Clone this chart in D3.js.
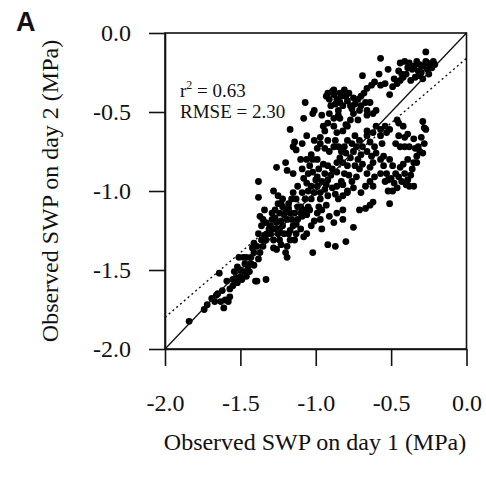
<!DOCTYPE html>
<html>
<head>
<meta charset="utf-8">
<script src="https://cdn.jsdelivr.net/npm/d3@7"></script>
<style>
  html, body { margin: 0; padding: 0; background: #fff; }
  svg { display: block; }
  text { font-family: "Liberation Serif", "Times New Roman", serif; fill: #111; }
</style>
</head>
<body>
<script>
// ---- data (MPa) ----
const day1 = [
  -1.84,-1.74,-1.72,-1.69,-1.66,-1.63,-1.61,-1.62,-1.64,-1.59,-1.57,-1.58,-1.55,-1.54,-1.52,-1.51,-1.49,-1.47,-1.45,-1.46,
  -1.48,-1.43,-1.40,-1.39,-1.33,-1.41,-1.39,-1.41,-1.36,-1.38,-1.34,-1.31,-1.33,-1.35,-1.37,-1.34,-1.29,-1.27,-1.26,-1.30,
  -1.28,-1.25,-1.24,-1.22,-1.19,-1.24,-1.22,-1.25,-1.28,-1.25,-1.22,-1.18,-1.17,-1.16,-1.15,-1.18,-1.17,-1.19,-1.20,-1.19,
  -1.14,-1.13,-1.10,-1.08,-1.06,-1.03,-1.01,-0.97,-0.96,-1.02,-0.92,-0.87,-0.80,-0.75,-0.82,-0.88,-0.91,-0.86,-0.82,-0.71,
  -0.67,-0.64,-0.62,-0.51,-0.85,-0.82,-0.79,
  -1.38,-1.38,-1.26,-1.20,-1.19,-1.15,-1.17,-1.14,-1.15,-1.13,-1.09,-1.06,-1.08,-1.07,-1.02,-1.01,-0.96,-0.95,-0.92,-0.91,
  -0.88,-0.90,-0.86,-0.84,-0.82,-0.85,-0.80,-0.81,-0.75,-0.72,-0.70,-0.67,-0.71,-0.75,-0.77,-0.79,-0.82,-0.86,-0.88,-0.92,
  -0.84,-0.72,-0.66,-0.62,-0.60,-0.66,-0.69,-0.63,-0.61,-0.58,-0.57,-0.54,-0.52,-0.57,-0.51,-0.49,-0.46,-0.44,-0.45,-0.42,
  -0.40,-0.44,-0.41,-0.38,-0.35,-0.33,-0.31,-0.32,-0.30,-0.29,-0.27,-0.26,-0.24,-0.22,-0.21,-0.27,-0.34,-0.37,-0.29,-0.25,
  -0.39,
  -1.15,-1.13,-1.10,-1.09,-1.07,-1.05,-1.03,-1.01,-0.99,-1.03,-1.06,-1.08,-1.05,-1.02,-0.99,-0.96,-0.94,-0.92,-0.95,-0.99,
  -1.02,-1.06,-1.10,-1.09,-1.03,-0.99,-0.97,-1.01,-0.94,-0.91,-0.88,-0.92,-0.87,-0.85,-0.83,-0.84,-0.86,-0.89,-0.92,-0.89,
  -0.94,-0.92,-0.87,-0.86,-0.83,-0.81,-0.79,-0.82,-0.77,-0.75,-0.73,-0.76,-0.71,-0.69,-0.66,-0.70,-0.72,-0.74,-0.71,-0.69,
  -0.66,-0.64,-0.62,-0.63,-0.60,-0.61,-0.64,-0.66,-0.62,-0.57,-0.56,-0.57,-0.54,-0.53,-0.60,-0.74,-0.79,-0.81,-0.80,-0.76,
  -0.73,-0.75,-0.79,-0.82,-0.67,-0.64,-0.61,-0.57,-0.55,-0.62,-0.70,
  -0.53,-0.52,-0.49,-0.51,-0.47,-0.45,-0.48,-0.46,-0.49,-0.52,-0.44,-0.42,-0.41,-0.39,-0.40,-0.38,-0.35,-0.36,-0.39,-0.35,
  -0.33,-0.31,-0.34,-0.38,-0.41,-0.44,-0.47,-0.45,-0.41,-0.39,-0.35,-0.32,-0.29,-0.28,-0.28,-0.27,-0.29,-0.45,-0.46,-0.42,
  -0.51,-0.55,-0.57,-0.54,
  -0.94,-0.97,-0.91,-0.88,-0.77,-0.74,-0.79,-0.66,-0.64,-0.88,-0.84,-0.66,
  -1.30,-1.27,-1.23,-1.21,-1.18,-1.16,-1.14,-1.12,-1.09,-1.12,-1.08,-1.06,-1.04,-0.98,-0.96,-0.93,-0.97,-0.99,-1.33,-1.35,
  -1.37,-1.38,-1.41,-1.44,-1.46,-1.50,-1.52,-1.55,-1.57,-1.60,-1.65,-1.67,-1.28,-1.24,-1.21,-1.26,-1.23,
  -0.93,-0.89,-0.87,-0.83,-0.78,-0.76,-0.70,-0.85,-0.80,-0.68,
  -1.05,-1.00,-0.97,-0.93,-0.90,-1.04,-0.98,-1.12,-0.86,-0.78,
  -1.27,-1.23,-1.20,-1.17,-1.13,-1.10,-1.32,-1.29,-1.36,-1.42,
  -1.47,-1.50,-1.43,-1.53,
  -0.36,-0.31,-0.43,-0.48,-0.26,-0.23,
  -0.50,-0.43,-0.37,-0.33,-0.30
];
const day2 = [
  -1.825,-1.75,-1.72,-1.68,-1.66,-1.70,-1.74,-1.63,-1.52,-1.57,-1.62,-1.70,-1.56,-1.51,-1.48,-1.42,-1.56,-1.51,-1.48,-1.42,
  -1.42,-1.46,-1.57,-1.57,-1.56,-1.39,-1.35,-1.33,-1.31,-1.27,-1.28,-1.24,-1.20,-1.18,-1.16,-1.12,-1.14,-1.17,-1.20,-1.27,
  -1.31,-1.27,-1.24,-1.22,-1.18,-1.14,-1.10,-1.08,-1.00,-1.03,-1.05,-1.08,-1.14,-1.18,-1.22,-1.27,-1.31,-1.35,-1.39,-1.42,
  -1.31,-1.27,-1.24,-1.29,-1.27,-1.22,-1.19,-1.18,-1.24,-1.39,-1.34,-1.35,-1.32,-1.23,-1.18,-1.20,-1.16,-1.14,-1.12,-1.12,
  -1.11,-1.09,-1.07,-1.08,-1.05,-1.03,-1.01,
  -0.94,-1.04,-0.85,-0.82,-0.87,-0.89,-0.61,-0.69,-0.72,-0.74,-0.70,-0.65,-0.54,-0.44,-0.51,-0.49,-0.52,-0.59,-0.38,-0.42,
  -0.39,-0.46,-0.42,-0.44,-0.46,-0.49,-0.40,-0.36,-0.41,-0.42,-0.40,-0.44,-0.49,-0.51,-0.55,-0.59,-0.62,-0.63,-0.59,-0.57,
  -0.54,-0.55,-0.52,-0.51,-0.49,-0.35,-0.27,-0.33,-0.31,-0.26,-0.33,-0.32,-0.23,-0.16,-0.39,-0.34,-0.32,-0.30,-0.24,-0.28,
  -0.26,-0.19,-0.18,-0.19,-0.21,-0.18,-0.20,-0.24,-0.25,-0.21,-0.18,-0.23,-0.20,-0.18,-0.20,-0.12,-0.28,-0.30,-0.29,-0.26,
  -0.22,
  -1.01,-1.05,-1.10,-1.01,-1.05,-1.10,-1.05,-1.01,-0.97,-0.97,-0.95,-0.92,-0.89,-0.88,-0.91,-0.94,-0.89,-0.84,-0.83,-0.80,
  -0.80,-0.80,-0.80,-0.86,-0.77,-0.73,-0.70,-0.68,-0.73,-0.75,-0.72,-0.68,-0.68,-0.72,-0.75,-0.79,-0.82,-0.86,-0.93,-0.98,
  -0.99,-1.03,-1.02,-0.97,-0.94,-0.89,-0.84,-0.82,-0.79,-0.75,-0.72,-0.70,-0.68,-0.72,-0.75,-0.77,-0.80,-0.84,-0.86,-0.83,
  -0.89,-0.85,-0.82,-0.78,-0.76,-0.72,-0.69,-0.65,-0.63,-0.65,-0.70,-0.61,-0.59,-0.63,-0.59,-0.65,-0.68,-0.72,-0.76,-0.94,
  -0.91,-0.98,-1.00,-0.96,-0.97,-0.94,-0.91,-0.89,-0.84,-0.97,-1.01,
  -0.89,-0.93,-0.84,-0.80,-0.89,-0.91,-0.95,-0.98,-1.00,-1.00,-0.85,-0.83,-0.89,-0.93,-0.96,-0.97,-0.97,-0.86,-0.80,-0.82,
  -0.78,-0.75,-0.73,-0.72,-0.72,-0.72,-0.70,-0.65,-0.66,-0.64,-0.67,-0.72,-0.76,-0.70,-0.60,-0.61,-0.56,-0.57,-0.55,-0.59,
  -0.61,-0.78,-0.80,-0.94,
  -0.62,-0.66,-0.51,-0.54,-0.46,-0.45,-0.43,-0.49,-0.44,-0.36,-0.38,-0.62,
  -1.22,-1.24,-1.19,-1.15,-1.11,-1.05,-1.14,-1.18,-1.16,-1.10,-1.12,-1.15,-1.12,-1.10,-1.12,-1.09,-1.05,-1.14,-1.31,-1.35,
  -1.39,-1.43,-1.47,-1.51,-1.54,-1.54,-1.58,-1.60,-1.67,-1.69,-1.65,-1.70,-1.36,-1.31,-1.27,-1.37,-1.34,
  -0.40,-0.37,-0.45,-0.40,-0.38,-0.48,-0.46,-0.52,-0.58,-0.38,
  -1.00,-0.93,-1.01,-0.96,-0.90,-0.84,-0.86,-0.97,-0.88,-0.90,
  -1.12,-1.08,-1.12,-1.25,-1.21,-1.14,-1.27,-1.18,-1.22,-1.36,
  -1.46,-1.50,-1.42,-1.55,
  -0.23,-0.27,-0.26,-0.29,-0.19,-0.22,
  -0.92,-0.94,-0.90,-0.82,-0.66
];
const tickValues = [-2.0, -1.5, -1.0, -0.5, 0.0];
const statLines = ["r2 = 0.63", "RMSE = 2.30"];
const panelLabel = "A";
const xTitle = "Observed SWP on day 1 (MPa)";
const yTitle = "Observed SWP on day 2 (MPa)";
const fitLine = { slope: 0.82, intercept: -0.16 };

const W = 486, H = 481;
const svg = d3.select("body").append("svg").attr("width", W).attr("height", H);

const x = d3.scaleLinear().domain([-2, 0]).range([165, 466.5]);
const y = d3.scaleLinear().domain([-2, 0]).range([349, 33]);
const fmt = d => d.toFixed(1);

// box
svg.append("rect")
  .attr("x", x(-2)).attr("y", y(0))
  .attr("width", x(0) - x(-2)).attr("height", y(-2) - y(0))
  .attr("fill", "none").attr("stroke", "#111").attr("stroke-width", 1.6);

// points
svg.append("g").selectAll("circle")
  .data(day1.map((v, i) => [v, day2[i]]))
  .join("circle")
  .attr("cx", d => x(d[0])).attr("cy", d => y(d[1]))
  .attr("r", 3.4).attr("fill", "#000");

// 1:1 line
svg.append("line")
  .attr("x1", x(-2)).attr("y1", y(-2)).attr("x2", x(0)).attr("y2", y(0))
  .attr("stroke", "#111").attr("stroke-width", 1.3);
// regression line (dotted)
svg.append("line")
  .attr("x1", x(-2)).attr("y1", y(fitLine.intercept + fitLine.slope * -2))
  .attr("x2", x(0)).attr("y2", y(fitLine.intercept))
  .attr("stroke", "#111").attr("stroke-width", 1.4).attr("stroke-dasharray", "2,3");

// axes
const yAxis = svg.append("g").attr("transform", `translate(${x(-2)},0)`)
  .call(d3.axisLeft(y).tickValues(tickValues).tickFormat(fmt).tickSize(16).tickSizeOuter(0).tickPadding(18));
const xAxis = svg.append("g").attr("transform", `translate(0,${y(-2)})`)
  .call(d3.axisBottom(x).tickValues(tickValues).tickFormat(fmt).tickSize(17).tickSizeOuter(0).tickPadding(28));
[yAxis, xAxis].forEach(g => {
  g.selectAll("path.domain").attr("stroke", "#111").attr("stroke-width", 1.6);
  g.selectAll(".tick line").attr("stroke", "#111").attr("stroke-width", 1.6);
  g.selectAll(".tick text").attr("font-family", "Liberation Serif, Times New Roman, serif")
    .attr("font-size", 24).attr("fill", "#111");
});

// annotation
const ann = svg.append("text").attr("x", 180).attr("y", 97).attr("font-size", 19);
ann.append("tspan").text("r");
ann.append("tspan").attr("dy", -8).attr("font-size", 12).text("2");
ann.append("tspan").attr("dy", 8).text(" = 0.63");
svg.append("text").attr("x", 180).attr("y", 118).attr("font-size", 19).text(statLines[1]);

// titles
svg.append("text").attr("x", 315).attr("y", 450).attr("text-anchor", "middle")
  .attr("font-size", 24).text(xTitle);
svg.append("text").attr("transform", "translate(58,191) rotate(-90)")
  .attr("text-anchor", "middle").attr("font-size", 24).text(yTitle);

// panel label
svg.append("text").attr("x", 16).attr("y", 31)
  .style("font-family", "'Liberation Sans', Arial, sans-serif")
  .attr("font-weight", "bold").attr("font-size", 27).text(panelLabel);
</script>
</body>
</html>
